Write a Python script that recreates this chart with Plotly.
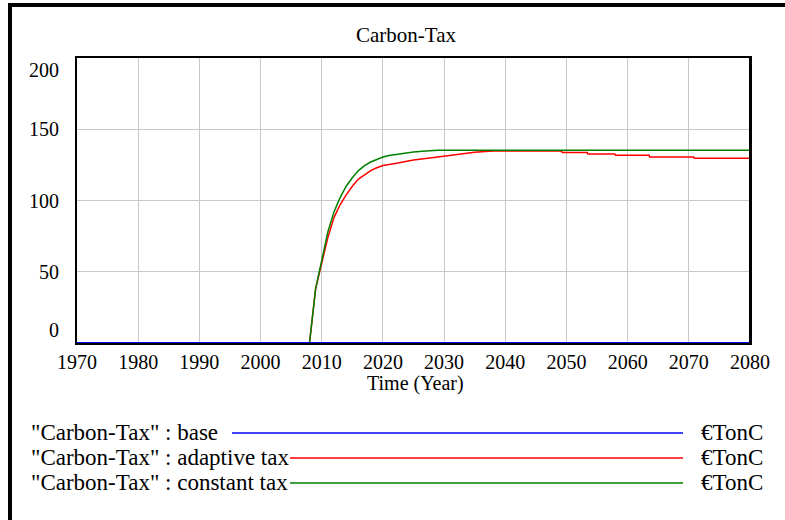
import plotly.graph_objects as go

# ---- data ----
base_years = [1970, 2080]
base_vals = [0, 0]

adaptive_years = [1970, 2008, 2009, 2010, 2011, 2012, 2013, 2014, 2015, 2016, 2017, 2018,
                  2019, 2020, 2022, 2025, 2028, 2030, 2035, 2038, 2049.2, 2049.3, 2053.4,
                  2053.5, 2057.9, 2058.0, 2063.5, 2063.6, 2070.8, 2070.9, 2080]
adaptive_vals = [0, 0, 38, 55, 74, 88, 97, 104, 110, 115, 118, 121,
                 123, 124.5, 126, 128.4, 130, 131.2, 133.8, 134.7, 134.7, 133.6, 133.6,
                 132.6, 132.6, 131.7, 131.7, 130.5, 130.5, 129.6, 129.6]

constant_years = [1970, 2008, 2009, 2010, 2011, 2012, 2013, 2014, 2015, 2016, 2017, 2018,
                  2019, 2020, 2021, 2023, 2025, 2027, 2029, 2080]
constant_vals = [0, 0, 38, 57, 78, 92, 102, 110, 116, 121, 124.5, 127,
                 129, 130.5, 131.5, 133, 134, 134.8, 135.2, 135.2]

x_ticks = list(range(1970, 2081, 10))
y_ticks = [0, 50, 100, 150, 200]
title_text = "Carbon-Tax"
x_title = "Time (Year)"
legend_labels = ['"Carbon-Tax" : base', '"Carbon-Tax" : adaptive tax', '"Carbon-Tax" : constant tax']
legend_units = ["€TonC", "€TonC", "€TonC"]
colors = ["#0000ff", "#ff0000", "#008000"]

FONT = "Liberation Serif"
FS = 20
FS_TITLE = 21
FS_LEG = 23

W, H = 785, 520
L, R, T, B = 77, 750, 58, 343   # plot area pixel box


def px(x):
    return (x - L) / (R - L)


def py(y):
    return (B - y) / (B - T)


fig = go.Figure()
fig.add_trace(go.Scatter(x=adaptive_years, y=adaptive_vals, mode="lines",
                         line=dict(color=colors[1], width=1.5), showlegend=False))
fig.add_trace(go.Scatter(x=constant_years, y=constant_vals, mode="lines",
                         line=dict(color=colors[2], width=1.5), showlegend=False))
fig.add_trace(go.Scatter(x=base_years, y=base_vals, mode="lines",
                         line=dict(color=colors[0], width=2), showlegend=False))

fig.update_layout(
    width=W, height=H,
    margin=dict(l=L, r=W - R, t=T, b=H - B, pad=0),
    paper_bgcolor="white", plot_bgcolor="white",
    font=dict(family=FONT, size=FS, color="black"),
    showlegend=False,
)
fig.update_xaxes(range=[1970, 2080], tickvals=x_ticks, ticks="", showgrid=True,
                 gridcolor="#c8c8c8", gridwidth=1, showline=True, linecolor="black",
                 linewidth=2, mirror=True, zeroline=False,
                 tickfont=dict(family=FONT, size=FS))
fig.update_yaxes(range=[0, 200], tickvals=y_ticks, showticklabels=False, ticks="",
                 showgrid=True, gridcolor="#c8c8c8", gridwidth=1, showline=True,
                 linecolor="black", linewidth=2, mirror=True, zeroline=False)

ann = []
ann.append(dict(x=px(406), y=py(35), xref="paper", yref="paper", text=title_text,
                showarrow=False, xanchor="center", yanchor="middle",
                font=dict(family=FONT, size=FS_TITLE)))
ann.append(dict(x=px(415), y=py(383), xref="paper", yref="paper", text=x_title,
                showarrow=False, xanchor="center", yanchor="middle",
                font=dict(family=FONT, size=FS)))
for v in y_ticks:
    if v == 200:
        yy = py(70)
    elif v == 0:
        yy = py(330)
    else:
        yy = py(B - (B - T) * v / 200)
    ann.append(dict(x=px(61), y=yy, xref="paper", yref="paper", text=str(v),
                    showarrow=False, xanchor="right", yanchor="middle",
                    font=dict(family=FONT, size=FS)))

shapes = []
rows = [432, 457, 482]
line_starts = [232, 290, 290]
for i in range(3):
    ann.append(dict(x=px(29), y=py(rows[i]), xref="paper", yref="paper",
                    text=legend_labels[i], showarrow=False, xanchor="left",
                    yanchor="middle", font=dict(family=FONT, size=FS_LEG)))
    ann.append(dict(x=px(699), y=py(rows[i]), xref="paper", yref="paper",
                    text=legend_units[i], showarrow=False, xanchor="left",
                    yanchor="middle", font=dict(family=FONT, size=FS_LEG)))
    shapes.append(dict(type="line", xref="paper", yref="paper",
                       x0=px(line_starts[i]), x1=px(683), y0=py(rows[i] + 1), y1=py(rows[i] + 1),
                       line=dict(color=colors[i], width=1.5)))

# outer frame (top and left) and thicker right plot border
shapes.append(dict(type="line", xref="paper", yref="paper", x0=px(8), x1=px(790),
                   y0=py(5), y1=py(5), line=dict(color="black", width=4)))
shapes.append(dict(type="line", xref="paper", yref="paper", x0=px(10), x1=px(10),
                   y0=py(3), y1=py(525), line=dict(color="black", width=4)))
shapes.append(dict(type="line", xref="paper", yref="paper", x0=px(750.5), x1=px(750.5),
                   y0=py(57), y1=py(344), line=dict(color="black", width=3)))

fig.update_layout(annotations=ann, shapes=shapes)
fig.write_html("out.html", config={"displayModeBar": False},
               post_script="document.body.style.margin='0';document.body.style.overflow='hidden';")
